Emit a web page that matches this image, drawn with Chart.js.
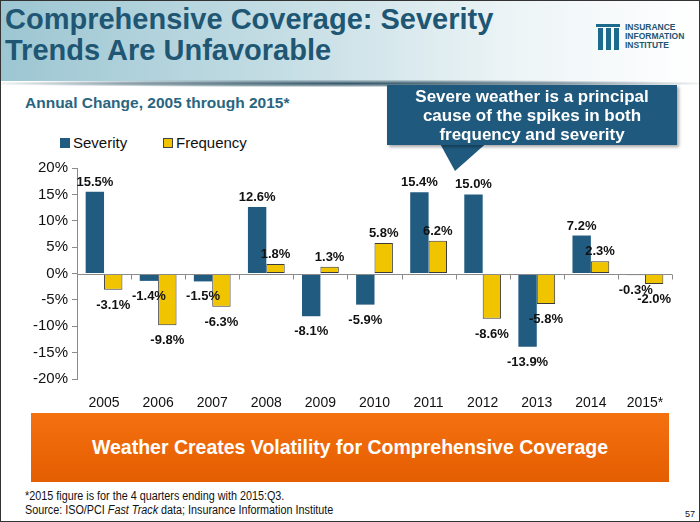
<!DOCTYPE html>
<html>
<head>
<meta charset="utf-8">
<script src="https://cdn.jsdelivr.net/npm/chart.js@4"></script>
<style>
  html, body { margin: 0; padding: 0; }
  body { width: 700px; height: 522px; position: relative; overflow: hidden; background: #fff; font-family: "Liberation Sans", Arial, sans-serif; }
  .frame { position: absolute; left: 0; top: 0; width: 698px; height: 520px; border: 1px solid #333; pointer-events: none; z-index: 10; }
  .header { position: absolute; left: 0; top: 0; width: 700px; height: 81px;
    background: linear-gradient(to right, #9cc6d2 0%, #c4dde4 40%, #eef5f7 75%, #ffffff 100%); }
  .shadow { position: absolute; left: 0; top: 80px; width: 700px; height: 7px;
    background: radial-gradient(ellipse at center, rgba(30,70,90,0.9) 0%, rgba(30,70,90,0.5) 45%, rgba(30,70,90,0) 75%); }
  .title { position: absolute; left: 5px; top: 4px; font-weight: bold; font-size: 29px; line-height: 31px; color: #1e5673; }
  .logo { position: absolute; left: 596px; top: 22px; width: 96px; height: 30px; }
  .logo .bar { position: absolute; top: 6px; width: 5px; height: 22px; background: #1c6a8c; }
  .logo .cap { position: absolute; top: 2px; height: 3px; background: #1c6a8c; }
  .logo .txt { position: absolute; left: 29px; top: 1px; font-size: 8.5px; line-height: 9px; font-weight: bold; color: #1e5673; }
  .subtitle { position: absolute; left: 25px; top: 94px; font-size: 15.5px; font-weight: bold; color: #2a6580; }
  .legend { position: absolute; top: 134px; font-size: 15px; color: #111; }
  .legend span.box { display: inline-block; width: 10px; height: 10px; margin-right: 3px; vertical-align: 0px; }
  .callout { position: absolute; left: 387px; top: 85px; width: 290px; height: 60px; background: #1f5a7e;
    box-shadow: 2px 2px 3px rgba(0,0,0,0.35); color: #fff; font-weight: bold; font-size: 17px; line-height: 19px; text-align: center; padding-top: 2px; box-sizing: border-box; z-index: 3; }
  .pointer { position: absolute; left: 0; top: 0; z-index: 2; }
  .chartbox { position: absolute; left: 0; top: 155px; width: 700px; height: 254px; }
  .banner { position: absolute; left: 31px; top: 413px; width: 638px; height: 69px;
    background: linear-gradient(to bottom, #f5700f, #e45e02); color: #fff; font-weight: bold; font-size: 19.5px;
    text-align: center; line-height: 69px; }
  .notes { position: absolute; left: 25px; top: 489px; font-size: 12px; line-height: 14px; color: #111;
    transform: scaleX(0.9); transform-origin: left top; white-space: nowrap; }
  .page { position: absolute; left: 685px; top: 509px; font-size: 9px; color: #111; }
</style>
</head>
<body>
<div class="frame"></div>
<div class="header"></div>
<div class="shadow"></div>
<div class="title">Comprehensive Coverage: Severity<br>Trends Are Unfavorable</div>
<div class="logo">
  <div class="cap" style="left:0;width:24px"></div>
  <div class="bar" style="left:2px"></div>
  <div class="bar" style="left:10px"></div>
  <div class="bar" style="left:18px"></div>
  <div class="txt">INSURANCE<br>INFORMATION<br>INSTITUTE</div>
</div>
<div class="subtitle">Annual Change, 2005 through 2015*</div>
<div class="legend" id="legend"></div>
<svg class="pointer" width="700" height="522"><polygon points="438,140 490,140 455,171" fill="#1f5a7e"/></svg>
<div class="callout">Severe weather is a principal<br>cause of the spikes in both<br>frequency and severity</div>
<div class="chartbox"><canvas id="myChart"></canvas></div>
<div class="banner">Weather Creates Volatility for Comprehensive Coverage</div>
<div class="notes">*2015 figure is for the 4 quarters ending with 2015:Q3.<br>Source: ISO/PCI <i>Fast Track</i> data; Insurance Information Institute</div>
<div class="page">57</div>

<script>
// data
const years = ['2005', '2006', '2007', '2008', '2009', '2010', '2011', '2012', '2013', '2014', '2015*'];
const severity = [15.5, -1.4, -1.5, 12.6, -8.1, -5.9, 15.4, 15.0, -13.9, 7.2, -0.3];
const frequency = [-3.1, -9.8, -6.3, 1.8, 1.3, 5.8, 6.2, -8.6, -5.8, 2.3, -2.0];
const yTicks = [-20, -15, -10, -5, 0, 5, 10, 15, 20];

const blue = '#215b80';
const yellow = '#f1c400';

// simple html legend
document.getElementById('legend').innerHTML =
    '<span style="position:absolute;left:60px;white-space:nowrap"><span class="box" style="background:' + blue + '"></span>Severity</span>' +
    '<span style="position:absolute;left:163px;white-space:nowrap"><span class="box" style="background:' + yellow + ';outline:1px solid #444;outline-offset:-1px"></span>Frequency</span>';

// zero line with tick marks between categories
const zeroLine = {
    id: 'zeroLine',
    afterDatasetsDraw(chart) {
        const { ctx, chartArea, scales } = chart;
        const y0 = Math.round(scales.y.getPixelForValue(0)) + 0.5;
        const step = (chartArea.right - chartArea.left) / years.length;
        ctx.save();
        ctx.strokeStyle = '#8a8a8a';
        ctx.lineWidth = 1;
        ctx.beginPath();
        ctx.moveTo(chartArea.left, y0);
        ctx.lineTo(chartArea.right, y0);
        for (let i = 1; i <= years.length; i++) {
            const x = Math.round(chartArea.left + step * i) + 0.5;
            ctx.moveTo(x, y0);
            ctx.lineTo(x, y0 + 5);
        }
        ctx.stroke();
        ctx.restore();
    }
};

// value labels at the end of each bar
const valueLabels = {
    id: 'valueLabels',
    afterDatasetsDraw(chart) {
        const ctx = chart.ctx;
        ctx.save();
        ctx.font = 'bold 13px "Liberation Sans", Arial, sans-serif';
        ctx.fillStyle = '#111';
        ctx.textAlign = 'center';
        chart.data.datasets.forEach((ds, di) => {
            chart.getDatasetMeta(di).data.forEach((bar, i) => {
                const v = ds.data[i];
                const txt = v.toFixed(1) + '%';
                if (v >= 0) {
                    ctx.textBaseline = 'bottom';
                    ctx.fillText(txt, bar.x, bar.y - 3);
                } else {
                    ctx.textBaseline = 'top';
                    ctx.fillText(txt, bar.x, bar.y + 9);
                }
            });
        });
        ctx.restore();
    }
};

const ctx = document.getElementById('myChart').getContext('2d');
const myChart = new Chart(ctx, {
    type: 'bar',
    data: {
        labels: years,
        datasets: [{
            label: 'Severity',
            data: severity,
            backgroundColor: blue,
            borderWidth: 0,
            categoryPercentage: 0.68,
            barPercentage: 1.0
        }, {
            label: 'Frequency',
            data: frequency,
            backgroundColor: yellow,
            borderColor: '#3a3a3a',
            borderWidth: 1,
            borderSkipped: false,
            categoryPercentage: 0.68,
            barPercentage: 1.0
        }]
    },
    options: {
        responsive: true,
        maintainAspectRatio: false,
        animation: false,
        layout: { padding: { left: 0, right: 28, top: 11, bottom: 0 } },
        plugins: {
            legend: { display: false },
            tooltip: { enabled: false }
        },
        scales: {
            x: {
                grid: { display: false },
                border: { display: false },
                ticks: {
                    color: '#111',
                    padding: 8,
                    font: { family: '"Liberation Sans", Arial, sans-serif', size: 14 }
                },
                afterFit(scale) { scale.height = 30; }
            },
            y: {
                min: -20,
                max: 20,
                afterBuildTicks(scale) { scale.ticks = yTicks.map(v => ({ value: v })); },
                grid: { drawOnChartArea: false, drawTicks: true, tickLength: 5, color: '#8a8a8a' },
                border: { color: '#8a8a8a' },
                ticks: {
                    color: '#111',
                    padding: 4,
                    font: { family: '"Liberation Sans", Arial, sans-serif', size: 15 },
                    callback: v => v + '%'
                },
                afterFit(scale) { scale.width = 77; }
            }
        }
    },
    plugins: [zeroLine, valueLabels]
});
</script>
</body>
</html>
